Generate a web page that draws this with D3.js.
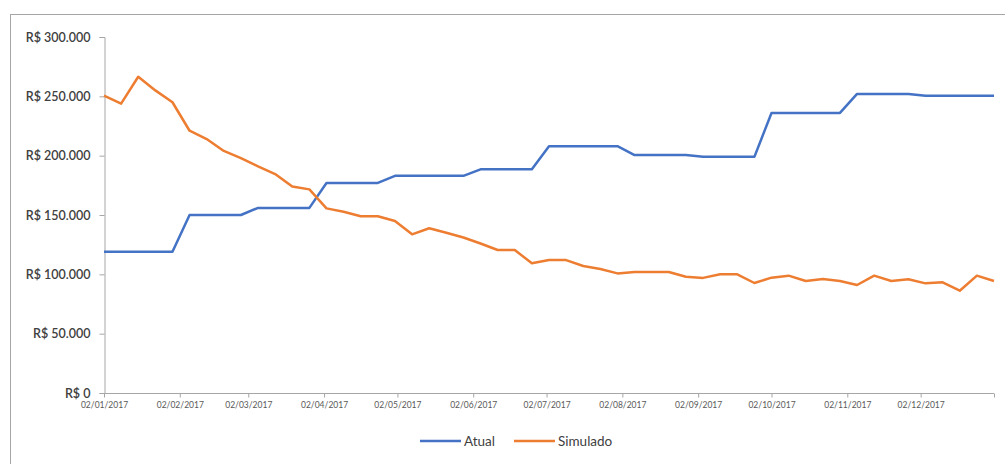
<!DOCTYPE html>
<html>
<head>
<meta charset="utf-8">
<script src="https://cdn.jsdelivr.net/npm/d3@7"></script>
<style>
  html, body { margin: 0; padding: 0; background: #fff; }
  svg { display: block; }
  text { font-family: Lato, "Open Sans", sans-serif; }
</style>
</head>
<body>
<script>
// Weekly series, starting Monday 02/01/2017
const startDate = new Date(2017, 0, 2);
const weeks = d3.range(53);

const atual = [
  119000, 119000, 119000, 119000, 119000,
  150000, 150000, 150000, 150000,
  156000, 156000, 156000, 156000,
  177000, 177000, 177000, 177000,
  183000, 183000, 183000, 183000, 183000,
  188500, 188500, 188500, 188500,
  208000, 208000, 208000, 208000, 208000,
  200500, 200500, 200500, 200500,
  199000, 199000, 199000, 199000,
  236000, 236000, 236000, 236000, 236000,
  252000, 252000, 252000, 252000,
  250500, 250500, 250500, 250500, 250500
];

const simulado = [
  250500, 243800, 266500, 255000, 245000, 221000, 214000, 204000, 198000, 191000,
  184500, 174000, 171600, 155600, 152800, 149000, 149000, 145000, 133700, 138800,
  135000, 131000, 126000, 120500, 120500, 109300, 112000, 112000, 107000, 104500,
  100800, 102000, 102000, 102000, 98000, 97000, 100000, 100000, 92700, 97200,
  98900, 94400, 96000, 94400, 91000, 98900, 94400, 95800, 92400, 93300,
  86200, 98900, 94400
];

const yTicks = [0, 50000, 100000, 150000, 200000, 250000, 300000];
const monthTicks = d3.range(12).map(m => new Date(2017, m, 2));
const seriesNames = ["Atual", "Simulado"];
const seriesColors = ["#4472C4", "#ED7D31"];

const dates = weeks.map(i => d3.timeDay.offset(startDate, i * 7));
const endDate = dates[dates.length - 1];

const W = 1005, H = 464;
const svg = d3.select("body").append("svg").attr("width", W).attr("height", H);

// chart frame
svg.append("rect")
  .attr("x", 10.5).attr("y", 14.5)
  .attr("width", 1100).attr("height", 600)
  .attr("fill", "#fff").attr("stroke", "#a6a6a6").attr("stroke-width", 1);

const plotLeft = 104, plotRight = 994, plotTop = 37, plotBottom = 393;

const x = d3.scaleTime().domain([startDate, endDate]).range([plotLeft, plotRight]);
const y = d3.scaleLinear().domain([0, 300000]).range([plotBottom, plotTop]);

const brl = v => "R$ " + d3.format(",")(v).replace(/,/g, ".");

// y axis
const yAxis = svg.append("g")
  .attr("transform", `translate(${plotLeft + 0.5},0)`)
  .call(d3.axisLeft(y).tickValues(yTicks).tickSize(5).tickPadding(9).tickFormat(brl));
yAxis.select(".domain").attr("stroke", "#a6a6a6");
yAxis.selectAll(".tick line").attr("stroke", "#a6a6a6");
yAxis.selectAll("text")
  .attr("fill", "#404040").style("font-size", "12.5px").style("font-weight", "600");

// x axis
const xAxis = svg.append("g")
  .attr("transform", `translate(0,${plotBottom + 0.5})`)
  .call(d3.axisBottom(x).tickValues(monthTicks.concat([endDate])).tickSize(4).tickPadding(4)
    .tickFormat(d => d.getTime() === endDate.getTime() ? "" : d3.timeFormat("%d/%m/%Y")(d)));
xAxis.select(".domain").attr("stroke", "#a6a6a6").attr("d", `M${plotLeft},0H${plotRight}`);
xAxis.selectAll(".tick line").attr("stroke", "#a6a6a6");
xAxis.selectAll("text")
  .attr("fill", "#595959").style("font-size", "8.5px");

// lines
const line = d3.line().x((d, i) => x(dates[i])).y(d => y(d));
[atual, simulado].forEach((vals, k) => {
  svg.append("path")
    .datum(vals)
    .attr("d", line)
    .attr("fill", "none")
    .attr("stroke", seriesColors[k])
    .attr("stroke-width", 2.5)
    .attr("stroke-linejoin", "round");
});

// legend
const legendX = [420, 514];
seriesNames.forEach((name, k) => {
  const g = svg.append("g").attr("transform", `translate(${legendX[k]},441)`);
  g.append("line").attr("x1", 0).attr("x2", 41).attr("y1", 0).attr("y2", 0)
    .attr("stroke", seriesColors[k]).attr("stroke-width", 2.5);
  g.append("text").attr("x", 44).attr("y", 5)
    .attr("fill", "#404040").style("font-size", "13.5px").text(name);
});
</script>
</body>
</html>
